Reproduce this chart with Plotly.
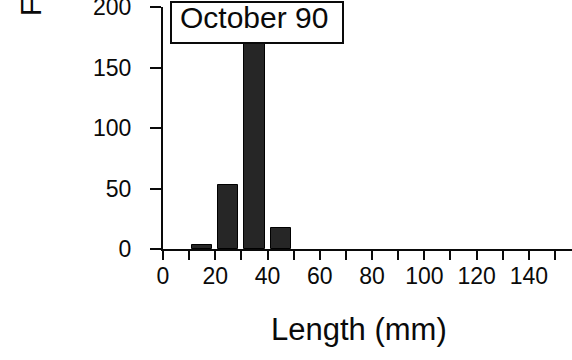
import plotly.graph_objects as go

# Data
bin_centers = [15, 25, 35, 45]
frequencies = [3, 53, 170, 17]
x_tick_vals = list(range(0, 151, 10))
x_tick_text = ["0", "", "20", "", "40", "", "60", "", "80", "", "100", "", "120", "", "140", ""]
y_tick_vals = [0, 50, 100, 150, 200]
legend_label = "October 90"
x_title = "Length (mm)"
y_title = "Frequency"

FONT = "Liberation Sans, Arial, Helvetica, sans-serif"
INK = "#0a0a0a"

fig = go.Figure()
fig.add_trace(go.Bar(
    x=bin_centers, y=frequencies, width=7.7,
    marker=dict(color="#262626", line=dict(color="#000000", width=1)),
    showlegend=False,
))

L, T, B = 163, 7, 111
plot_h = 360 - T - B
plot_w = 572 - L


def px_x(p):
    return (p - L) / plot_w


def px_y(p):
    return (360 - B - p) / plot_h


fig.update_layout(
    width=572, height=360,
    margin=dict(l=L, r=0, t=T, b=B, pad=0, autoexpand=False),
    paper_bgcolor="white", plot_bgcolor="white",
    font=dict(family=FONT, color=INK),
    bargap=0,
    xaxis=dict(
        range=[0, 156.5], tickvals=x_tick_vals, ticktext=x_tick_text,
        ticks="outside", ticklen=9, tickwidth=2, tickcolor=INK,
        showline=True, linecolor=INK, linewidth=2,
        showgrid=False, zeroline=False, automargin=False,
        tickfont=dict(size=23, family=FONT, color=INK),
        ticklabelstandoff=-4,
    ),
    yaxis=dict(
        range=[0, 200], tickvals=y_tick_vals,
        ticks="outside", ticklen=11, tickwidth=2, tickcolor=INK,
        showline=True, linecolor=INK, linewidth=2,
        showgrid=False, zeroline=False, automargin=False,
        tickfont=dict(size=23, family=FONT, color=INK),
        ticklabelstandoff=14,
        ticklabeloverflow="allow",
    ),
    shapes=[
        dict(type="rect", xref="paper", yref="paper",
             x0=px_x(171), x1=px_x(343), y0=px_y(43), y1=px_y(2),
             line=dict(color=INK, width=2), fillcolor="white", layer="above"),
    ],
    annotations=[
        dict(
            text=legend_label, xref="paper", yref="paper",
            x=px_x(254), y=px_y(18),
            xanchor="center", yanchor="middle", showarrow=False,
            font=dict(size=30, family=FONT, color=INK),
        ),
        dict(
            text=x_title, xref="paper", yref="paper",
            x=px_x(359), y=px_y(329),
            xanchor="center", yanchor="middle", showarrow=False,
            font=dict(size=31, family=FONT, color=INK),
        ),
        dict(
            text=y_title, xref="paper", yref="paper",
            x=px_x(31), y=px_y(18),
            xanchor="center", yanchor="bottom", textangle=-90,
            showarrow=False,
            font=dict(size=29, family=FONT, color=INK),
        ),
    ],
)

fig.write_html("out.html")
